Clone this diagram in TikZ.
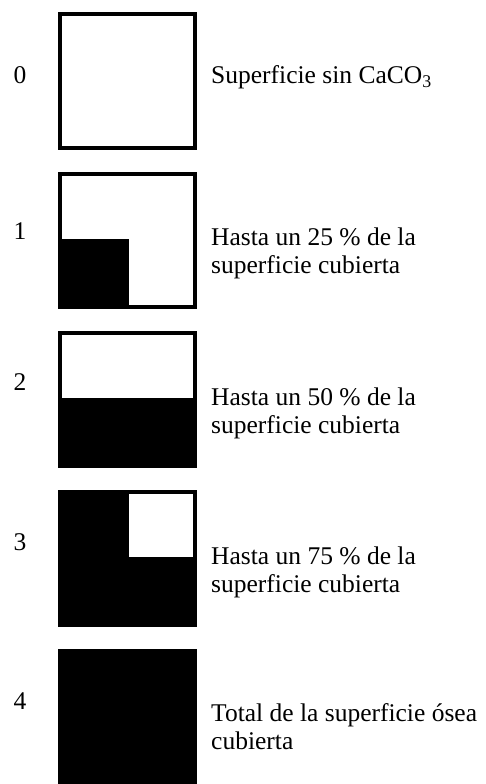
\documentclass[tikz,border=0pt]{standalone}
\usepackage{fontspec}
\setmainfont{Liberation Serif}
\tikzset{
  cuadro/.style={line width=4pt},
  nivel/.style={anchor=base, inner sep=0pt, font=\fontsize{25.5}{28}\selectfont},
  texto/.style={anchor=base west, inner sep=0pt, align=left, font=\fontsize{25.5}{28}\selectfont}
}

\begin{document}
\begin{tikzpicture}[x=1pt,y=-1pt]
			%%%%% START %%%%%
			\useasboundingbox (0,0) rectangle (485,784);
			
			\draw[cuadro] (60,14.5) rectangle (195,148);
			\node[nivel] (n0) at (20,83.5) {0};
			\node[texto] (t0) at (211,84) {Superficie sin CaCO\textsubscript{3}};
			
			\fill (60,239) rectangle (129,307);
			\draw[cuadro] (60,173.5) rectangle (195,307);
			\node[nivel] (n1) at (20,239.5) {1};
			\node[texto] (t1) at (211,273) {Hasta un 25 \% de la\\superficie cubierta};
			
			\fill (60,398) rectangle (195,466);
			\draw[cuadro] (60,332.5) rectangle (195,466);
			\node[nivel] (n2) at (20,390.5) {2};
			\node[texto] (t2) at (211,433) {Hasta un 50 \% de la\\superficie cubierta};
			
			\draw[cuadro, fill=black] (60,491.5) rectangle (195,625);
			\fill[white] (129,493.5) rectangle (193,557);
			\node[nivel] (n3) at (20,550) {3};
			\node[texto] (t3) at (211,592) {Hasta un 75 \% de la\\superficie cubierta};
			
			\draw[cuadro, fill=black] (60,650.5) rectangle (195,790);
			\node[nivel] (n4) at (20,709) {4};
			\node[texto] (t4) at (211,749.5) {Total de la superficie ósea\\cubierta};
			
			%%%%% END %%%%%
		\end{tikzpicture}
\end{document}
